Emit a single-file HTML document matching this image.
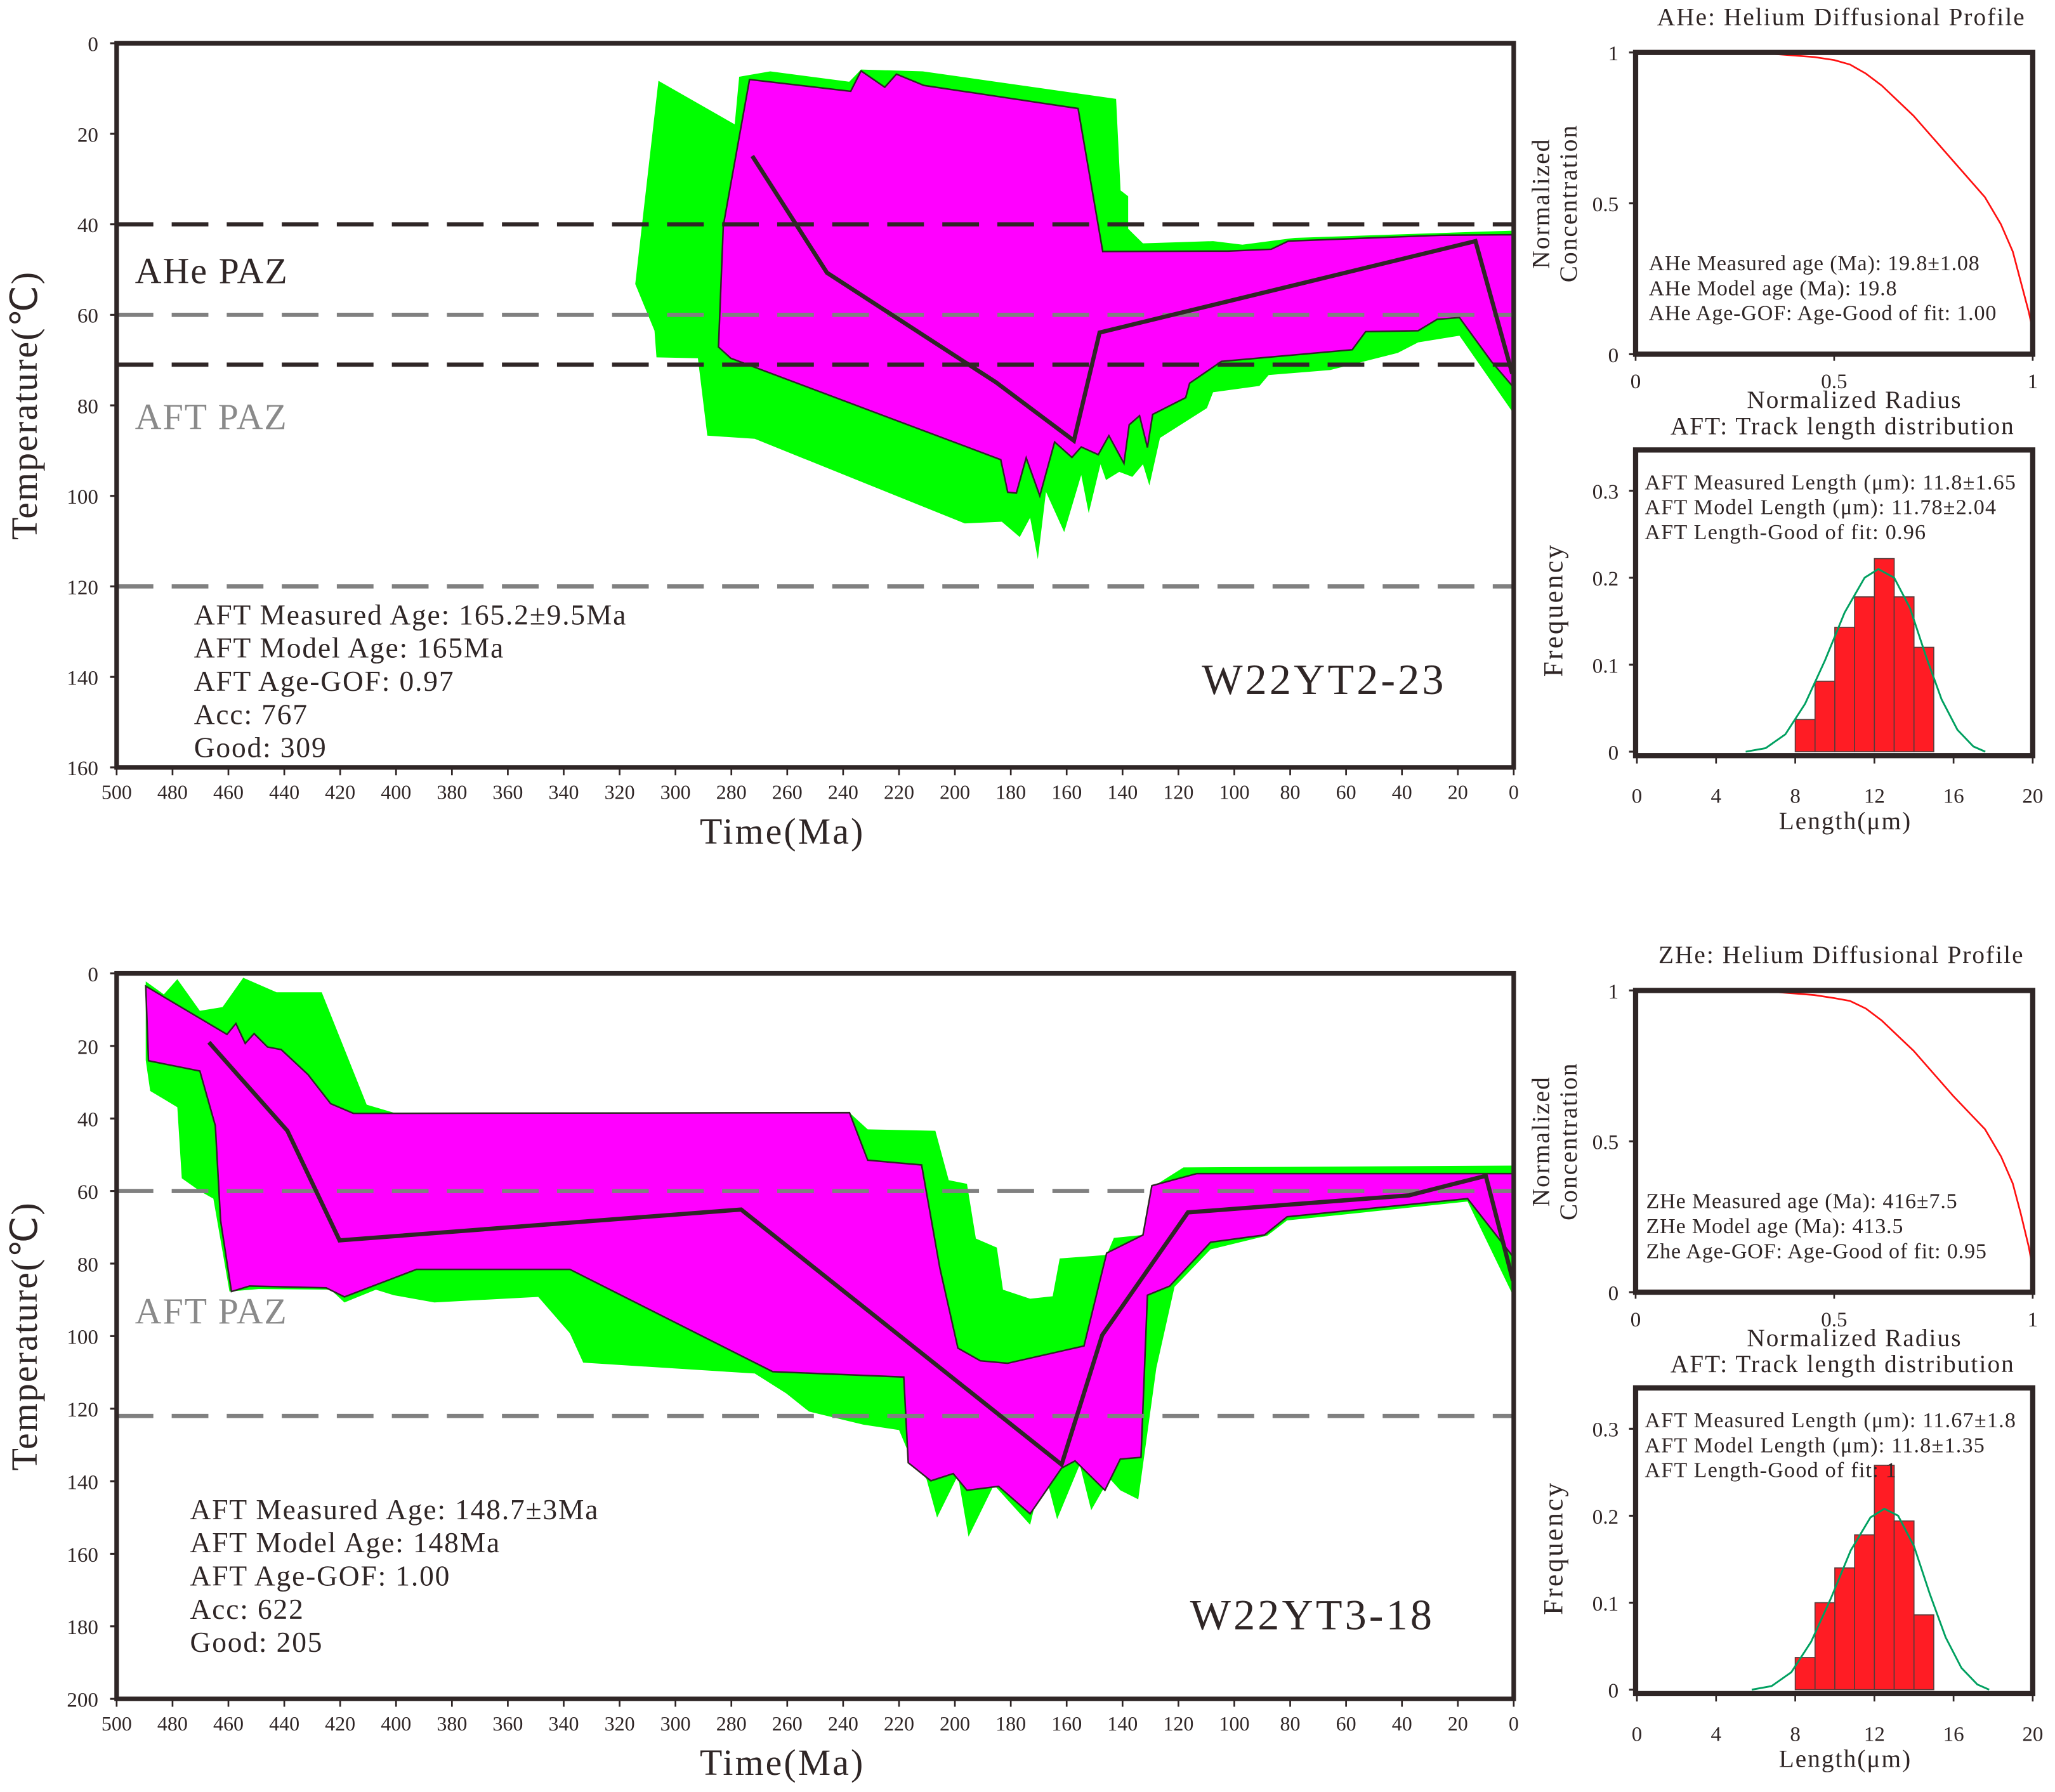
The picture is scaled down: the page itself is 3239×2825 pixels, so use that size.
<!DOCTYPE html>
<html><head><meta charset="utf-8"><style>
html,body{margin:0;padding:0;background:#fff;}
svg{display:block;font-family:"Liberation Serif",serif;}
</style></head><body>
<svg id="fig" xmlns="http://www.w3.org/2000/svg" width="3239" height="2825" viewBox="0 0 1568 1366" preserveAspectRatio="none">
<rect x="0" y="0" width="1568" height="1366" fill="#fff"/>
</svg>
<script>
// ---------------- data: top thermal history (W22YT2-23) ----------------
const xTicks = [500,480,460,440,420,400,380,360,340,320,300,280,260,240,220,200,180,160,140,120,100,80,60,40,20,0];
const topYTicks = [0,20,40,60,80,100,120,140,160];
const botYTicks = [0,20,40,60,80,100,120,140,160,180,200];

const topGreenMa = [306.1,278.8,277.2,266.1,237.8,233.6,211.5,142.3,140.7,138,138,132.7,107.6,97.1,78.3,0.5,0.5,19.4,34.2,41.5,65.7,87.7,91,107.6,109.8,126.6,130.4,132.7,136.5,141.2,145.9,147.9,152.1,154.8,160.9,167.4,170.3,173.1,176.8,183.2,196.5,271.6,288.6,292,306.8,307.5,314.4];
const topGreenT  = [8.3,17.9,7.4,6.2,8.5,5.8,6.2,12.3,32.5,33.8,41,44.2,43.7,44.5,43,41.4,81.4,64.6,66.1,68.4,72.2,73.3,75.7,77.1,80.6,87.2,97.7,93,95.8,94.7,96.5,93,103.8,95.4,108,99.1,114,104.8,109.1,105.7,106.1,87.4,86.7,69.6,69.4,63.5,53.2];
const topMagMa = [273.5,237.3,233.6,225.1,220.9,211.1,155.9,147.1,102.3,86.8,80.7,25.8,0.5,0.5,8,19.4,27.4,34.2,53,57.8,104.6,116,117.4,129.2,131.1,133.9,137.6,139.5,144.9,148.7,154.8,158.1,164.3,169.6,174.5,178,181.1,183.6,280.2,284.6,282.9];
const topMagT  = [8.0,10.6,6.1,9.7,6.8,9.3,14.4,46,45.9,45.5,43.7,42.4,42.3,75.7,70.3,60.6,61,63.5,63.7,67.7,70.3,75.1,78.3,82,89.3,82.3,84.3,92.8,86.7,90.9,89.2,91.5,88.1,100,91.6,99.4,99.2,92,69.6,67.1,40.3];
const topBestMa = [272.5,245.8,185.3,157.4,148.2,13.7,0.5];
const topBestT  = [24.9,50.7,74.9,87.8,63.9,43.7,73];
const topLinesT = [40,60,71,120];
const topLinesColor = ['#2f2626','#808080','#2f2626','#808080'];

// ---------------- data: bottom thermal history (W22YT3-18) ----------------
const botGreenMa = [489.6,483.1,478.3,470.2,462.1,454.7,442.8,426.6,410.5,400.8,237.7,231.2,207,202.2,195.7,192.5,185,182.8,173.1,165,162.5,145.7,143.1,132.7,129.5,118.2,0.3,0.3,16.5,81.1,88.2,108.5,121.4,127.9,134.4,140.8,144.7,151.2,155.3,163.4,168.2,173.1,186,195.1,198.9,206.4,210.2,215.1,220,232.8,252.2,260.3,271.6,333,337.8,349.1,386.3,400.8,407.2,418.5,423.4,449.2,459.6,465.4,470.2,476.7,478.3,488,489.6];
const botGreenT  = [2.2,5.8,1.6,10.3,9.3,1.2,5.2,5.2,36.2,38.4,38.4,43,43.4,57,58,73.1,75.6,87.2,89.7,89,78.6,77.6,72.9,72.1,59,53.5,53,88.7,62.9,68.1,72.3,76.1,86.4,108.8,145,142.5,139.2,148,135.4,150.5,136.4,152,141,155.3,138.4,150,139.4,134.9,125.9,124.4,120.8,115.8,110.3,107.3,99.2,89.2,90.7,88.7,87.2,90.7,87.2,87,87.7,62.1,60,56.5,36.9,32.4,23.9];
const botMagMa = [489.6,460.5,457.3,454,450.8,446,441.1,431.5,423.4,415.3,237.7,231.2,211.9,205.4,198.9,190.9,181.2,153.8,145.7,132.7,129.5,113.4,0.3,0.3,16.5,81.1,89.2,108.5,123.1,131.1,133.4,140.8,146.3,157,161.8,173.1,184.4,195.7,200.6,208.6,216.7,218.3,265.2,337.8,392.7,418.5,425,452.4,458.9,462.8,464.7,470.2,488.6];
const botMagT  = [3.5,16.8,13.8,19.3,16.6,20.3,21,27.9,35.9,38.6,38.4,51.5,52.8,81.2,103.3,106.8,107.5,102.7,77.1,72.1,58.5,55.2,55.2,78.1,62.1,67.1,72.1,74.1,86.2,88.7,133.4,133.9,142.5,134.4,136.4,149,141.4,142.5,137.9,139.9,134.9,111.3,109.8,81.6,81.6,89.2,86.7,86.2,87.7,68.1,42,26.9,24.1];
const botBestMa = [467,438.9,420.2,276.5,161.8,147.3,116.6,37.5,10,0.3];
const botBestT  = [19,43.4,73.6,65.1,135.4,99.7,65.9,61.2,55.8,84.7];
const botLinesT = [60,122];
const botLinesColor = ['#808080','#808080'];

// ---------------- data: right panels ----------------
const profTicksX = [0,0.5,1];
const profTicksY = [0,0.5,1];
const profTopR = [0.25,0.35,0.45,0.5,0.54,0.58,0.62,0.7,0.8,0.88,0.92,0.95,0.97,0.99,1.0];
const profTopC = [1.0,0.995,0.985,0.975,0.96,0.93,0.89,0.79,0.64,0.52,0.43,0.34,0.24,0.14,0.08];
const profBotR = [0.25,0.35,0.45,0.5,0.54,0.58,0.62,0.7,0.8,0.88,0.92,0.95,0.97,0.99,1.0];
const profBotC = [1.0,0.995,0.985,0.975,0.965,0.94,0.9,0.8,0.65,0.54,0.45,0.36,0.26,0.15,0.08];
const histTicksX = [0,4,8,12,16,20];
const histTicksY = [0,0.1,0.2,0.3];
const binStarts = [8,9,10,11,12,13,14];
const histTopFreq = [0.037,0.081,0.143,0.178,0.222,0.178,0.12];
const histBotFreq = [0.037,0.1,0.14,0.178,0.258,0.194,0.086];
const fitTopL = [5.5,6.5,7.5,8.5,9.5,10.5,11.5,12.2,13,13.8,14.6,15.4,16.2,17,17.6];
const fitTopF = [0,0.004,0.02,0.055,0.105,0.16,0.2,0.21,0.2,0.165,0.11,0.06,0.025,0.006,0];
const fitBotL = [5.8,6.8,7.8,8.8,9.8,10.8,11.8,12.5,13.2,14,14.8,15.6,16.4,17.2,17.8];
const fitBotF = [0,0.004,0.02,0.055,0.105,0.16,0.198,0.208,0.2,0.165,0.11,0.06,0.025,0.006,0];

const NS = 'http://www.w3.org/2000/svg';
const svg = document.getElementById('fig');
function mk(tag, attrs, parent, text){
  const e = document.createElementNS(NS, tag);
  for (const k in attrs) e.setAttribute(k, attrs[k]);
  if (text !== undefined) e.textContent = text;
  (parent || svg).appendChild(e);
  return e;
}
function grp(name){
  const g = document.createElementNS(NS,'g');
  
  
  svg.appendChild(g);
  return g;
}
const INK = '#2f2626';

function drawThermal(o){
  const L=89, R=1155, T=o.top, B=o.bottom;
  const xs = ma => L + (500 - ma) / 500 * (R - L);
  const ys = t => T + t / o.tmax * (B - T);
  const g = grp(o.name);
  const pts = (a,b) => a.map((v,i)=> xs(v).toFixed(1)+','+ys(b[i]).toFixed(1)).join(' ');
  let e;
  e = mk('polygon',{points:pts(o.gMa,o.gT),fill:'#00ff00',stroke:'none'},g);
  
  
  e = mk('polygon',{points:pts(o.mMa,o.mT),fill:'#ff00ff',stroke:INK,'stroke-width':1.2,'stroke-linejoin':'miter'},g);
  
  
  o.lines.forEach((t,i)=>{
    const l = mk('line',{x1:L,x2:R,y1:ys(t),y2:ys(t),stroke:o.lineColors[i],'stroke-width':3.2,'stroke-dasharray':'28,14'},g);
    
    
  });
  e = mk('polyline',{points:pts(o.bMa,o.bT),fill:'none',stroke:INK,'stroke-width':3.2,'stroke-linejoin':'miter'},g);
  
  
  e = mk('rect',{x:L,y:T,width:R-L,height:B-T,fill:'none',stroke:INK,'stroke-width':3.5},g);
  
  
  o.yTicks.forEach(t=>{
    mk('line',{x1:L-5,x2:L,y1:ys(t),y2:ys(t),stroke:INK,'stroke-width':1.5},g);
    const tx = mk('text',{x:L-14,y:ys(t)+6,'text-anchor':'end','font-size':16,fill:INK},g,String(t));
    
    
  });
  xTicks.forEach(m=>{
    mk('line',{x1:xs(m),x2:xs(m),y1:B,y2:B+6,stroke:INK,'stroke-width':1.3},g);
    const tx = mk('text',{x:xs(m),y:B+24,'text-anchor':'middle','font-size':15.5,fill:INK},g,String(m));
    
    
  });
  e = mk('text',{x:597,y:B+58,'text-anchor':'middle','font-size':28,'letter-spacing':1.5,fill:INK},g,'Time(Ma)');
  
  
  const cy=(T+B)/2;
  e = mk('text',{x:28,y:cy,'text-anchor':'middle','font-size':28,'letter-spacing':1,fill:INK,transform:`rotate(-90 28 ${cy})`},g,'Temperature(℃)');
  
  
  o.labels.forEach(lb=>{
    const t = mk('text',{x:lb.x,y:lb.y,'font-size':lb.s,'letter-spacing':1,fill:lb.c},g,lb.t);
    
    
  });
  o.info.forEach((s,i)=>{
    const t = mk('text',{x:o.infoX,y:o.infoY+i*25.3,'font-size':22,'letter-spacing':0.9,fill:INK},g,s);
    
    
  });
  e = mk('text',{x:o.sampleX,y:o.sampleY,'font-size':33,'letter-spacing':2,fill:INK},g,o.sample);
  
  
}

drawThermal({name:'thermal-history-top',top:33,bottom:585,tmax:160,yTicks:topYTicks,
  gMa:topGreenMa,gT:topGreenT,mMa:topMagMa,mT:topMagT,bMa:topBestMa,bT:topBestT,
  lines:topLinesT,lineColors:topLinesColor,
  labels:[{x:103,y:216,s:28,c:INK,t:'AHe PAZ',n:'ahe-paz-label'},{x:103,y:327,s:28,c:'#8a8a8a',t:'AFT PAZ',n:'aft-paz-label'}],
  info:['AFT Measured Age: 165.2±9.5Ma','AFT Model Age: 165Ma','AFT Age-GOF: 0.97','Acc: 767','Good: 309'],
  infoX:148,infoY:476,sample:'W22YT2-23',sampleX:917,sampleY:529});

drawThermal({name:'thermal-history-bottom',top:742,bottom:1295,tmax:200,yTicks:botYTicks,
  gMa:botGreenMa,gT:botGreenT,mMa:botMagMa,mT:botMagT,bMa:botBestMa,bT:botBestT,
  lines:botLinesT,lineColors:botLinesColor,
  labels:[{x:103,y:1009,s:28,c:'#8a8a8a',t:'AFT PAZ',n:'aft-paz-label'}],
  info:['AFT Measured Age: 148.7±3Ma','AFT Model Age: 148Ma','AFT Age-GOF: 1.00','Acc: 622','Good: 205'],
  infoX:145,infoY:1158,sample:'W22YT3-18',sampleX:908,sampleY:1242});

function drawProfile(o){
  const L=1248,R=1551,T=o.top,B=o.top+230;
  const xs=r=>L+r*(R-L), ys=c=>B-c*(B-T);
  const g=grp(o.name);
  let e;
  e = mk('text',{x:1405,y:T-21,'text-anchor':'middle','font-size':19,'letter-spacing':1,fill:INK},g,o.title);
  
  
  e = mk('polyline',{points:o.r.map((r,i)=>xs(r).toFixed(1)+','+ys(o.c[i]).toFixed(1)).join(' '),fill:'none',stroke:'#ff1010','stroke-width':1.3,'stroke-linejoin':'round'},g);
  
  
  e = mk('rect',{x:L,y:T,width:R-L,height:B-T,fill:'none',stroke:INK,'stroke-width':4},g);
  
  
  profTicksY.forEach(v=>{
    mk('line',{x1:L-5,x2:L,y1:ys(v),y2:ys(v),stroke:INK,'stroke-width':1.5},g);
    const t=mk('text',{x:L-13,y:ys(v)+6,'text-anchor':'end','font-size':16,fill:INK},g,String(v));
    
    
  });
  profTicksX.forEach(v=>{
    mk('line',{x1:xs(v),x2:xs(v),y1:B,y2:B+5,stroke:INK,'stroke-width':1.3},g);
    const t=mk('text',{x:xs(v),y:B+26,'text-anchor':'middle','font-size':16,fill:INK},g,String(v));
    
    
  });
  e = mk('text',{x:1415,y:B+41,'text-anchor':'middle','font-size':19,'letter-spacing':1,fill:INK},g,'Normalized Radius');
  
  
  const cy=T+115;
  e = mk('text',{x:1182,y:cy,'text-anchor':'middle','font-size':19,'letter-spacing':1,fill:INK,transform:`rotate(-90 1182 ${cy})`},g,'Normalized');
  
  
  e = mk('text',{x:1203,y:cy,'text-anchor':'middle','font-size':19,'letter-spacing':1,fill:INK,transform:`rotate(-90 1203 ${cy})`},g,'Concentration');
  
  
  o.info.forEach((s,i)=>{
    const t=mk('text',{x:o.infoX,y:T+166+i*19,'font-size':16.5,'letter-spacing':0.4,fill:INK},g,s);
    
    
  });
}
drawProfile({name:'ahe-profile-panel',top:40,title:'AHe: Helium Diffusional Profile',r:profTopR,c:profTopC,infoX:1258,
  info:['AHe Measured age (Ma): 19.8±1.08','AHe Model age  (Ma): 19.8','AHe Age-GOF: Age-Good of fit: 1.00']});
drawProfile({name:'zhe-profile-panel',top:755,title:'ZHe: Helium Diffusional Profile',r:profBotR,c:profBotC,infoX:1256,
  info:['ZHe Measured age (Ma): 416±7.5','ZHe Model age  (Ma): 413.5','Zhe Age-GOF: Age-Good of fit: 0.95']});

function drawHist(o){
  const L=1248,R=1551,T=o.top,B=o.top+233,zero=B-3;
  const xs=l=>1249+l/20*(1551-1249), ys=f=>zero-f*663;
  const g=grp(o.name);
  let e;
  e = mk('text',{x:1406,y:T-12,'text-anchor':'middle','font-size':19,'letter-spacing':1,fill:INK},g,'AFT: Track length distribution');
  
  
  binStarts.forEach((s,i)=>{
    const r=mk('rect',{x:xs(s),y:ys(o.freq[i]),width:xs(s+1)-xs(s),height:zero-ys(o.freq[i]),fill:'#ff1c24',stroke:'#5a3a3a','stroke-width':0.8},g);
    
    
  });
  e = mk('polyline',{points:o.fl.map((l,i)=>xs(l).toFixed(1)+','+ys(o.ff[i]).toFixed(1)).join(' '),fill:'none',stroke:'#00a060','stroke-width':1.4,'stroke-linejoin':'round'},g);
  
  
  e = mk('rect',{x:L,y:T,width:R-L,height:B-T,fill:'none',stroke:INK,'stroke-width':4},g);
  
  
  histTicksY.forEach(v=>{
    mk('line',{x1:L-5,x2:L,y1:ys(v),y2:ys(v),stroke:INK,'stroke-width':1.5},g);
    const t=mk('text',{x:L-13,y:ys(v)+6,'text-anchor':'end','font-size':16,fill:INK},g,String(v));
    
    
  });
  histTicksX.forEach(v=>{
    mk('line',{x1:xs(v),x2:xs(v),y1:B,y2:B+6,stroke:INK,'stroke-width':1.3},g);
    const t=mk('text',{x:xs(v),y:B+36,'text-anchor':'middle','font-size':16,fill:INK},g,String(v));
    
    
  });
  e = mk('text',{x:1408,y:B+56,'text-anchor':'middle','font-size':19,'letter-spacing':1,fill:INK},g,'Length(μm)');
  
  
  const cy=T+122;
  e = mk('text',{x:1192,y:cy,'text-anchor':'middle','font-size':21,'letter-spacing':1.5,fill:INK,transform:`rotate(-90 1192 ${cy})`},g,'Frequency');
  
  
  o.info.forEach((s,i)=>{
    const t=mk('text',{x:1255,y:T+30+i*19,'font-size':16.5,'letter-spacing':0.6,fill:INK},g,s);
    
    
  });
}
drawHist({name:'track-length-panel-top',top:343,freq:histTopFreq,fl:fitTopL,ff:fitTopF,
  info:['AFT Measured Length (μm): 11.8±1.65','AFT Model Length (μm): 11.78±2.04','AFT Length-Good of fit: 0.96']});
drawHist({name:'track-length-panel-bottom',top:1058,freq:histBotFreq,fl:fitBotL,ff:fitBotF,
  info:['AFT Measured Length (μm): 11.67±1.8','AFT Model Length (μm): 11.8±1.35','AFT Length-Good of fit: 1']});
</script>
</body></html>
